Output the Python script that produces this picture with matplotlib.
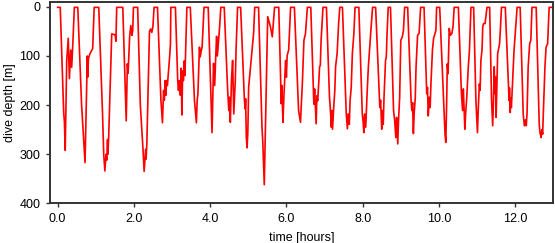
import matplotlib
matplotlib.use("Agg")
import matplotlib.pyplot as plt
import numpy as np

# dive profile, split in three parts
# part 1: dives 1-10
time_a = [0.00, 0.07, 0.16, 0.18, 0.20, 0.24, 0.28, 0.31, 0.345, 0.37, 0.40, 0.44, 0.53,
          0.63, 0.70, 0.72, 0.78, 0.79, 0.81, 0.85, 0.92, 0.96, 1.07,
          1.08, 1.18, 1.21, 1.24, 1.27, 1.29, 1.31, 1.32, 1.34, 1.42, 1.51, 1.53, 1.55, 1.71,
          1.80, 1.83, 1.85, 1.89, 1.92, 1.95, 1.97, 1.99, 2.10,
          2.17, 2.24, 2.27, 2.31, 2.32, 2.34, 2.41, 2.44, 2.47, 2.50, 2.53, 2.62,
          2.71, 2.75, 2.78, 2.80, 2.82, 2.84, 2.86, 2.88, 2.90, 2.94, 2.96, 2.97, 3.09,
          3.15, 3.17, 3.19, 3.22, 3.24, 3.26, 3.28, 3.30, 3.32, 3.34, 3.37, 3.39, 3.48,
          3.59, 3.64, 3.66, 3.68, 3.70, 3.72, 3.74, 3.77, 3.79, 3.84, 3.95,
          4.05, 4.09, 4.12, 4.15, 4.17, 4.19, 4.22, 4.25, 4.28, 4.37,
          4.46, 4.49, 4.51, 4.53, 4.56, 4.59, 4.62, 4.66, 4.68, 4.72]
depth_a = [1, 1, 215, 235, 292, 109, 64, 146, 88, 123, 75, 1, 1,
           200, 290, 317, 100, 143, 105, 95, 85, 1, 1,
           1, 220, 300, 334, 300, 312, 270, 300, 265, 55, 57, 70, 1, 1,
           232, 116, 135, 60, 38, 58, 48, 1, 1,
           200, 290, 335, 290, 310, 280, 50, 45, 52, 40, 1, 1,
           190, 236, 170, 190, 150, 180, 150, 160, 140, 100, 75, 1, 1,
           150, 170, 150, 180, 125, 220, 130, 150, 110, 140, 60, 1, 1,
           191, 236, 191, 177, 129, 82, 102, 88, 82, 1, 1,
           256, 115, 160, 95, 60, 100, 70, 40, 1, 1,
           170, 211, 184, 235, 150, 109, 218, 150, 88, 1]

# part 2: dives 11-20
time_b = [4.80, 4.90, 4.92, 4.93, 4.95, 4.97, 4.99, 5.01, 5.06, 5.10, 5.14, 5.17, 5.27,
          5.36, 5.38, 5.42, 5.51, 5.58, 5.63, 5.69, 5.80,
          5.85, 5.86, 5.88, 5.91, 5.93, 5.98, 6.00, 6.02, 6.06, 6.11, 6.21,
          6.30, 6.32, 6.37, 6.40, 6.42, 6.46, 6.50, 6.55, 6.64,
          6.72, 6.74, 6.76, 6.78, 6.80, 6.82, 6.85, 6.87, 6.89, 6.91, 6.96, 7.05,
          7.13, 7.15, 7.18, 7.19, 7.21, 7.24, 7.27, 7.29, 7.33, 7.37, 7.40, 7.47,
          7.55, 7.57, 7.60, 7.62, 7.65, 7.67, 7.70, 7.73, 7.77, 7.80, 7.90,
          7.99, 8.01, 8.03, 8.05, 8.08, 8.10, 8.12, 8.15, 8.18, 8.21, 8.26, 8.34,
          8.45, 8.47, 8.50, 8.52, 8.54, 8.56, 8.60, 8.62, 8.64, 8.67, 8.73,
          8.81, 8.84, 8.87, 8.89, 8.92, 8.94, 8.97, 9.00, 9.04, 9.07, 9.10]
depth_b = [1, 191, 208, 187, 266, 287, 252, 164, 122, 88, 54, 1, 1,
           245, 273, 362, 20, 40, 61, 1, 1,
           150, 197, 160, 235, 191, 109, 143, 99, 88, 1, 1,
           170, 211, 235, 184, 153, 68, 55, 1, 1,
           198, 167, 205, 238, 181, 191, 153, 122, 119, 68, 1, 1,
           184, 205, 245, 211, 249, 205, 170, 122, 95, 34, 1, 1,
           177, 218, 248, 218, 239, 191, 164, 95, 54, 1, 1,
           218, 232, 256, 218, 245, 205, 170, 122, 88, 54, 1, 1,
           205, 190, 249, 211, 239, 184, 109, 102, 54, 1, 1,
           211, 232, 266, 225, 279, 232, 184, 68, 61, 48, 1]

# part 3: dives 21-29
time_c = [9.17, 9.18, 9.27, 9.29, 9.31, 9.32, 9.33, 9.35, 9.38, 9.40, 9.44, 9.48, 9.50, 9.52, 9.61,
          9.68, 9.70, 9.72, 9.75, 9.77, 9.79, 9.83, 9.86, 9.92, 9.94, 10.02,
          10.14, 10.16, 10.18, 10.20, 10.22, 10.24, 10.27, 10.30, 10.34, 10.37, 10.40, 10.51,
          10.59, 10.62, 10.64, 10.66, 10.68, 10.70, 10.73, 10.77, 10.80, 10.84, 10.91,
          10.97, 10.99, 11.01, 11.03, 11.06, 11.08, 11.10, 11.13, 11.15, 11.17, 11.21, 11.23, 11.26, 11.32,
          11.33, 11.38, 11.41, 11.43, 11.45, 11.47, 11.49, 11.50, 11.52, 11.54, 11.59, 11.61, 11.64, 11.74,
          11.82, 11.84, 11.85, 11.87, 11.88, 11.90, 11.94, 11.95, 11.97, 12.02, 12.05, 12.13,
          12.21, 12.24, 12.27, 12.29, 12.31, 12.34, 12.38, 12.41, 12.44, 12.55,
          12.63, 12.65, 12.68, 12.70, 12.72, 12.74, 12.78, 12.81, 12.85, 12.89, 12.99]
depth_c = [1, 1, 191, 211, 195, 232, 258, 218, 184, 122, 58, 54, 27, 1, 1,
           177, 164, 222, 184, 205, 157, 88, 64, 48, 1, 1,
           218, 259, 276, 205, 116, 136, 44, 58, 54, 40, 1, 1,
           177, 211, 167, 211, 249, 218, 184, 122, 88, 1, 1,
           191, 225, 256, 211, 157, 170, 109, 88, 40, 34, 34, 20, 1, 1,
           1, 191, 242, 191, 122, 177, 143, 225, 157, 95, 75, 48, 1, 1,
           157, 191, 165, 215, 185, 205, 136, 122, 88, 34, 1, 1,
           218, 242, 230, 242, 218, 122, 75, 68, 1, 1,
           239, 256, 266, 250, 259, 211, 122, 82, 75, 1, 1]

time_h = np.concatenate([time_a, time_b, time_c])
depth_m = np.concatenate([depth_a, depth_b, depth_c])

plt.rcParams['font.family'] = ['Liberation Sans', 'DejaVu Sans']

fig = plt.figure(figsize=(5.55, 2.43), dpi=100)
ax = fig.add_axes([0.090, 0.163, 0.907, 0.829])

ax.plot(time_h, depth_m, color='#ff0000', linewidth=1.2)

ax.set_xlim(-0.2, 13.0)
ax.set_ylim(400, -10)
ax.set_xticks(np.arange(0, 13, 2))
ax.set_xticklabels(['%.1f' % v for v in np.arange(0, 13, 2)])
ax.set_yticks([0, 100, 200, 300, 400])

for sp in ax.spines.values():
    sp.set_color('#333333')
    sp.set_linewidth(1.4)
ax.tick_params(direction='out', length=3, width=1, color='#333333',
               labelsize=9, pad=4)

ax.set_xlabel('time [hours]', fontsize=9, labelpad=5)
ax.set_ylabel('dive depth [m]', fontsize=9, labelpad=2)

fig.savefig('out.png', dpi=100)
